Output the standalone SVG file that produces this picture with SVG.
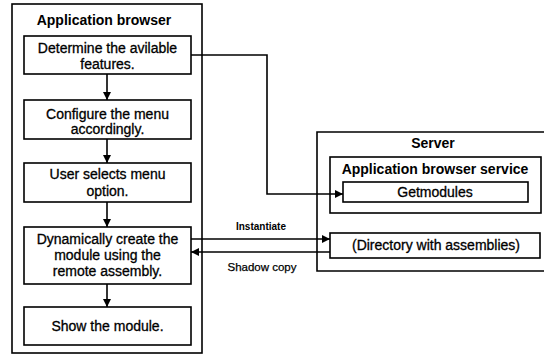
<svg xmlns="http://www.w3.org/2000/svg" width="544" height="355" viewBox="0 0 544 355">
  <defs>
    <marker id="arrow" viewBox="0 0 10 10" refX="10" refY="5" markerWidth="8" markerHeight="8" markerUnits="userSpaceOnUse" orient="auto">
      <path d="M0,0 L10,5 L0,10 Z" fill="#000"/>
    </marker>
  </defs>
  <style>
    .box { fill: #fff; stroke: #000; stroke-width: 1.6; }
    .frame { fill: none; stroke: #000; stroke-width: 1.6; }
    .txt { font-family: "Liberation Sans", Arial, sans-serif; font-size: 14px; fill: #000; stroke: #000; stroke-width: 0.3; text-anchor: middle; }
    .title { font-family: "Liberation Sans", Arial, sans-serif; font-size: 14px; font-weight: bold; fill: #000; text-anchor: middle; }
    .lbl { font-family: "Liberation Sans", Arial, sans-serif; fill: #000; text-anchor: middle; }
    .conn { fill: none; stroke: #000; stroke-width: 1.6; }
  </style>
  <rect width="544" height="355" fill="#fff"/>

  <!-- Client side container -->
  <g id="application-browser">
    <rect class="frame" x="12" y="4" width="190" height="349"/>
    <text class="title" x="104" y="25">Application browser</text>
  </g>

  <g id="step-determine">
    <rect class="box" x="24" y="36" width="167" height="38"/>
    <text class="txt" x="107.5" y="53">Determine the avilable</text>
    <text class="txt" x="107.5" y="69">features.</text>
  </g>

  <g id="step-configure">
    <rect class="box" x="24" y="100" width="167" height="39"/>
    <text class="txt" x="107.5" y="119">Configure the menu</text>
    <text class="txt" x="107.5" y="134">accordingly.</text>
  </g>

  <g id="step-select">
    <rect class="box" x="24" y="163" width="167" height="39"/>
    <text class="txt" x="107.5" y="179">User selects menu</text>
    <text class="txt" x="107.5" y="196">option.</text>
  </g>

  <g id="step-create">
    <rect class="box" x="24" y="227" width="167" height="57"/>
    <text class="txt" x="107.5" y="244">Dynamically create the</text>
    <text class="txt" x="107.5" y="260">module using the</text>
    <text class="txt" x="107.5" y="276">remote assembly.</text>
  </g>

  <g id="step-show">
    <rect class="box" x="24" y="307" width="167" height="38"/>
    <text class="txt" x="107.5" y="331">Show the module.</text>
  </g>

  <!-- Server side container -->
  <g id="server">
    <path class="frame" d="M546,132 H317 V271 H546"/>
    <text class="title" x="433" y="148">Server</text>
  </g>

  <g id="browser-service">
    <rect class="box" x="330" y="157" width="211" height="56"/>
    <text class="title" x="435" y="174">Application browser service</text>
  </g>

  <g id="getmodules">
    <rect class="box" x="343" y="182" width="185" height="20"/>
    <text class="txt" x="435" y="197">Getmodules</text>
  </g>

  <g id="assemblies">
    <rect class="box" x="330" y="233" width="210" height="25"/>
    <text class="txt" x="436" y="250">(Directory with assemblies)</text>
  </g>

  <!-- Connectors -->
  <g id="connectors">
    <line class="conn" x1="107" y1="74" x2="107" y2="100" marker-end="url(#arrow)"/>
    <line class="conn" x1="107" y1="139" x2="107" y2="163" marker-end="url(#arrow)"/>
    <line class="conn" x1="107" y1="202" x2="107" y2="227" marker-end="url(#arrow)"/>
    <line class="conn" x1="107" y1="284" x2="107" y2="307" marker-end="url(#arrow)"/>
    <path class="conn" d="M191,55 H267 V194 H343" marker-end="url(#arrow)"/>
    <line class="conn" x1="191" y1="239" x2="330" y2="239" marker-end="url(#arrow)"/>
    <line class="conn" x1="330" y1="252" x2="191" y2="252" marker-end="url(#arrow)"/>
    <text class="lbl" x="261" y="230" font-size="10" font-weight="bold">Instantiate</text>
    <text class="lbl" x="262" y="271" font-size="11.5" stroke="#000" stroke-width="0.25">Shadow copy</text>
  </g>
</svg>
